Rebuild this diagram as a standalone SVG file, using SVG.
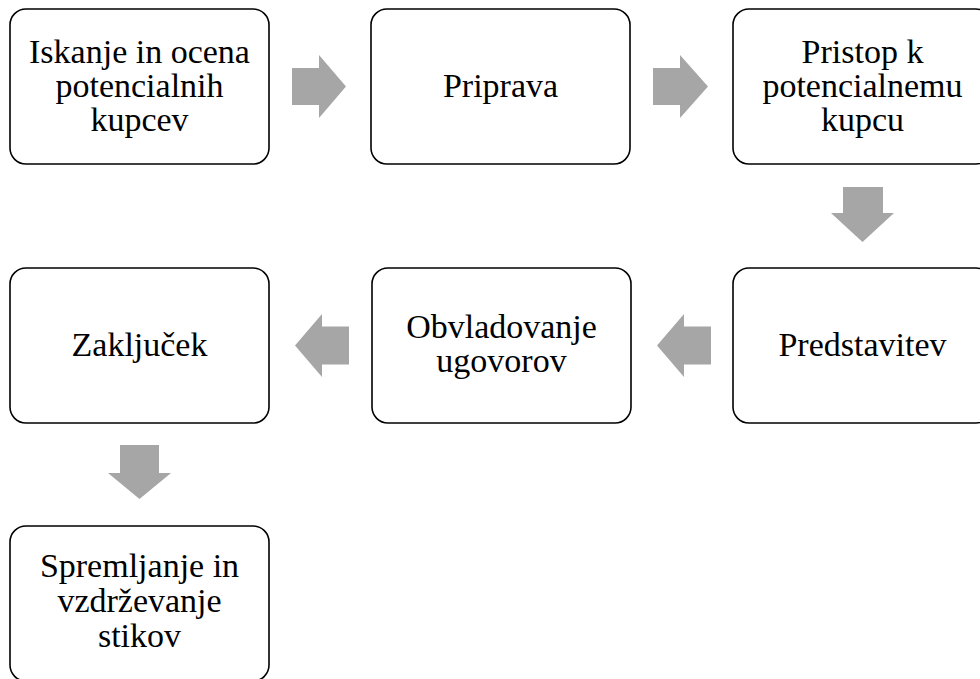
<svg xmlns="http://www.w3.org/2000/svg" width="980" height="679" viewBox="0 0 980 679">
<style>
.box{fill:#fff;stroke:#000;stroke-width:1.6}
.arr{fill:#a6a6a6}
.t{font-family:'Liberation Serif','Times New Roman',serif;font-size:34px;fill:#000;text-anchor:middle}
</style>
<rect width="980" height="679" fill="#fff"/>
<g id="connectors">
<polygon class="arr" points="292,68 319,68 319,55 346,86.5 319,118 319,105 292,105"/>
<polygon class="arr" points="653,68 680,68 680,55 708,86.5 680,118 680,105 653,105"/>
<polygon class="arr" points="843,187 883,187 883,213 894,213 862.5,242 831,213 843,213"/>
<polygon class="arr" points="711,326.5 684,326.5 684,314 657,345.5 684,377 684,364.5 711,364.5"/>
<polygon class="arr" points="349,326.5 322,326.5 322,314 295,345.5 322,377 322,364.5 349,364.5"/>
<polygon class="arr" points="120,445 159,445 159,473 171,473 139.5,499 108,473 120,473"/>
</g>
<g id="n1"><rect class="box" x="10" y="9" width="259" height="155" rx="16"/>
<text class="t" x="139.5" y="63">Iskanje in ocena</text><text class="t" x="139.5" y="97">potencialnih</text><text class="t" x="139.5" y="131">kupcev</text></g>
<g id="n2"><rect class="box" x="371" y="9" width="259" height="155" rx="16"/>
<text class="t" x="500.5" y="97">Priprava</text></g>
<g id="n3"><rect class="box" x="733" y="9" width="259" height="155" rx="16"/>
<text class="t" x="862.5" y="63">Pristop k</text><text class="t" x="862.5" y="97">potencialnemu</text><text class="t" x="862.5" y="131">kupcu</text></g>
<g id="n4"><rect class="box" x="733" y="268" width="259" height="155" rx="16"/>
<text class="t" x="862.5" y="356">Predstavitev</text></g>
<g id="n5"><rect class="box" x="372" y="268" width="259" height="155" rx="16"/>
<text class="t" x="501.5" y="338">Obvladovanje</text><text class="t" x="501.5" y="372">ugovorov</text></g>
<g id="n6"><rect class="box" x="10" y="268" width="259" height="155" rx="16"/>
<text class="t" x="139.5" y="356">Zaključek</text></g>
<g id="n7"><rect class="box" x="10" y="526" width="259" height="155" rx="16"/>
<text class="t" x="139.5" y="577">Spremljanje in</text><text class="t" x="139.5" y="612">vzdrževanje</text><text class="t" x="139.5" y="647">stikov</text></g>
</svg>
